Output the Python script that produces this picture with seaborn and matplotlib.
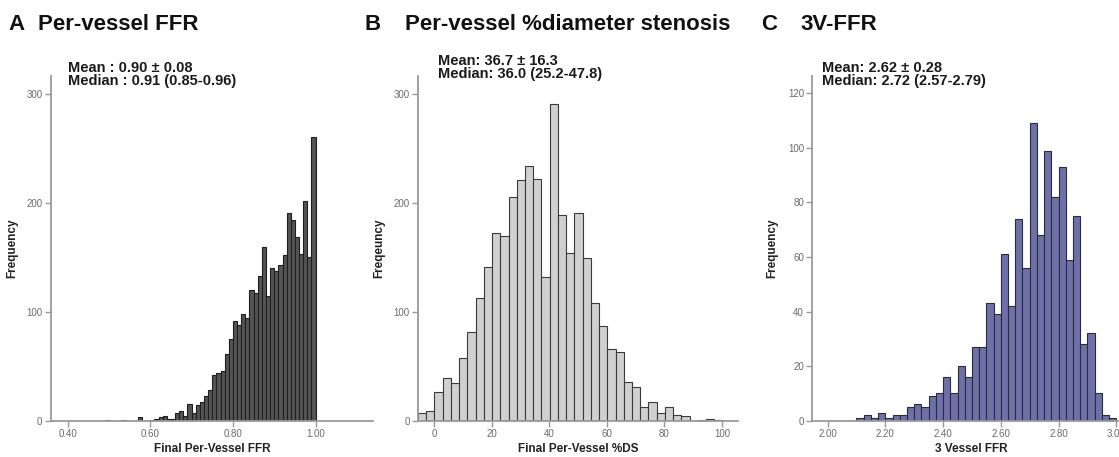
import numpy as np
import pandas as pd
import matplotlib
matplotlib.use("Agg")
import matplotlib.pyplot as plt
import seaborn as sns

# ---------------- data ----------------
# Panel A: per-vessel FFR, bins of 0.01
ffr_bin_start = 0.49
ffr_bin_width = 0.01
ffr_counts = [1, 0, 0, 0, 1, 0, 0, 0, 3, 0, 0,
              1, 2, 3, 4, 2, 2, 7, 9, 4, 15, 7, 14, 17, 23, 28, 42, 44, 46, 61, 75,
              92, 88, 98, 94, 120, 117, 133, 160, 115, 140, 138, 143, 152, 191, 185,
              169, 153, 202, 151, 261]
ffr_ticks = [0.40, 0.60, 0.80, 1.00]
ffr_ticklabels = ["0.40", "0.60", "0.80", "1.00"]

# Panel B: per-vessel %DS
ds_bin_start = -5.6
ds_bin_width = 2.86
ds_counts = [7, 9, 26, 39, 35, 58, 82, 113, 141, 173, 170, 206, 221, 234, 222,
             132, 291, 189, 154, 191, 150, 108, 87, 66, 63, 36, 31, 13, 17, 7, 13,
             5, 4, 0, 1, 2, 1]
ds_ticks = [0, 20, 40, 60, 80, 100]
ds_ticklabels = ["0", "20", "40", "60", "80", "100"]

# Panel C: 3-vessel FFR, bins of 0.025
v3_bin_start = 2.10
v3_bin_width = 0.025
v3_counts = [1, 2, 1, 3, 1, 2, 2, 5, 6, 5, 9, 10, 16, 10, 20, 16, 27, 27, 43, 39,
             61, 42, 74, 56, 109, 68, 99, 82, 93, 59, 75, 28, 32, 10, 2, 1]
v3_ticks = [2.00, 2.20, 2.40, 2.60, 2.80, 3.00]
v3_ticklabels = ["2.00", "2.20", "2.40", "2.60", "2.80", "3.00"]

titles_letter = ["A", "B", "C"]
titles_text = ["Per-vessel FFR", "Per-vessel %diameter stenosis", "3V-FFR"]
stats_lines = [
    ["Mean : 0.90 \u00b1 0.08", "Median : 0.91 (0.85-0.96)"],
    ["Mean: 36.7 \u00b1 16.3", "Median: 36.0 (25.2-47.8)"],
    ["Mean: 2.62 \u00b1 0.28", "Median: 2.72 (2.57-2.79)"],
]
xlabels = ["Final Per-Vessel FFR", "Final Per-Vessel %DS", "3 Vessel FFR"]
ylabels = ["Frequency", "Freqeuncy", "Frequency"]

# ---------------- styling ----------------
sns.set_theme(style="white")
plt.rcParams["font.family"] = ["Liberation Sans", "DejaVu Sans"]

W, H = 1119, 457
fig = plt.figure(figsize=(W / 100, H / 100), dpi=100)


def px_axes(left, right, top, bottom):
    return fig.add_axes([left / W, (H - bottom) / H, (right - left) / W, (bottom - top) / H])


def hist_panel(ax, start, width, counts, face, edge):
    counts = np.asarray(counts, dtype=float)
    n = len(counts)
    centers = start + width * (np.arange(n) + 0.5)
    df = pd.DataFrame({"x": centers, "w": counts})
    sns.histplot(data=df, x="x", weights="w", binwidth=width,
                 binrange=(start, start + n * width), ax=ax,
                 color=face, edgecolor=edge, linewidth=0.8, alpha=1.0)


panels = [
    dict(box=(50.7, 373, 76, 420.7), xlim=(0.359, 1.139), ylim=(0, 317),
         yt=[0, 100, 200, 300], xt=ffr_ticks, xtl=ffr_ticklabels,
         data=(ffr_bin_start, ffr_bin_width, ffr_counts), face="#545454", edge="#1e1e1e",
         ylab_x=-0.101, stats_xy=(68, 68), tl_x=(8, 38)),
    dict(box=(418, 738, 76, 420.7), xlim=(-5.6, 105.6), ylim=(0, 317),
         yt=[0, 100, 200, 300], xt=ds_ticks, xtl=ds_ticklabels,
         data=(ds_bin_start, ds_bin_width, ds_counts), face="#d0d0d0", edge="#3a3a3a",
         ylab_x=-0.103, stats_xy=(438, 61), tl_x=(365, 405)),
    dict(box=(812.3, 1125, 76, 420.7), xlim=(1.947, 3.03), ylim=(0, 126.3),
         yt=[0, 20, 40, 60, 80, 100, 120], xt=v3_ticks, xtl=v3_ticklabels,
         data=(v3_bin_start, v3_bin_width, v3_counts), face="#6e71a9", edge="#2a2a3a",
         ylab_x=-0.109, stats_xy=(822, 68), tl_x=(761, 800)),
]

for i, p in enumerate(panels):
    l, r, t, b = p["box"]
    ax = px_axes(l, r, t, b)
    hist_panel(ax, *p["data"], p["face"], p["edge"])
    ax.set_xlim(*p["xlim"])
    ax.set_ylim(*p["ylim"])
    ax.set_xticks(p["xt"])
    ax.set_xticklabels(p["xtl"])
    ax.set_yticks(p["yt"])
    for s in ["top", "right"]:
        ax.spines[s].set_visible(False)
    for s in ["left", "bottom"]:
        ax.spines[s].set_color("#9a9a9a")
        ax.spines[s].set_linewidth(1.3)
    ax.tick_params(axis="both", which="major", length=4, width=1.0, color="#9a9a9a",
                   labelsize=7, labelcolor="#6a6a6a", pad=2, direction="out",
                   bottom=True, left=True)
    ax.set_xlabel(xlabels[i], fontsize=8.5, fontweight="bold", color="#222222")
    ax.set_ylabel(ylabels[i], fontsize=8.5, fontweight="bold", color="#222222")
    ax.xaxis.set_label_coords(0.5 if i < 2 else 0.51, -0.066)
    ax.yaxis.set_label_coords(p["ylab_x"], 0.5)
    ax.grid(False)

    sx, sy = p["stats_xy"]
    fig.text(sx / W, 1 - sy / H, stats_lines[i][0], fontsize=10.5, fontweight="bold",
             color="#1a1a1a", va="center", ha="left")
    fig.text(sx / W, 1 - (sy + 13) / H, stats_lines[i][1], fontsize=10.5, fontweight="bold",
             color="#1a1a1a", va="center", ha="left")

    lx, tx = p["tl_x"]
    fig.text(lx / W, 1 - 25 / H, titles_letter[i], fontsize=16, fontweight="bold",
             color="#111111", va="center", ha="left")
    fig.text(tx / W, 1 - 25 / H, titles_text[i], fontsize=16, fontweight="bold",
             color="#111111", va="center", ha="left")

fig.savefig("out.png", dpi=100, facecolor="white")
